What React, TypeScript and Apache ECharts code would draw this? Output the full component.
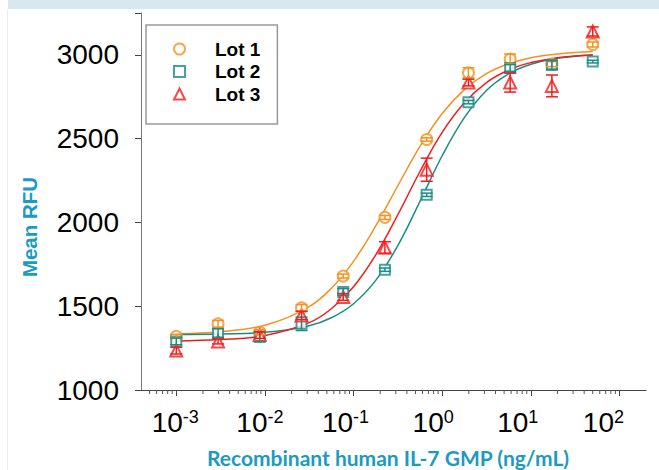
import React, { useEffect, useRef } from "react";
import * as echarts from "echarts";

const doses = [0.001, 0.00296, 0.00874, 0.0259, 0.0765, 0.226, 0.669, 1.98, 5.85, 17.3, 50];
const lot1 = [1320, 1395, 1345, 1490, 1680, 2030, 2495, 2893, 2975, 2945, 3062];
const lot2 = [1290, 1340, 1318, 1395, 1585, 1718, 2165, 2718, 2922, 2940, 2960];
const lot3 = [1235, 1290, 1328, 1445, 1555, 1850, 2315, 2835, 2835, 2815, 3140];
const err1 = [12, 20, 15, 20, 12, 12, 10, 30, 30, 15, 15];
const err2 = [20, 25, 30, 40, 20, 10, 10, 10, 20, 25, 8];
const err3 = [20, 15, 20, 25, 20, 35, 69, 20, 57, 65, 27];

const curveDoses = [0.001, 0.00316, 0.01, 0.0316, 0.0562, 0.1, 0.178, 0.316, 0.562, 1, 1.78, 3.16, 5.62, 10, 17.8, 31.6, 50];
const fit1 = [1336, 1348, 1387, 1498, 1607, 1768, 1979, 2219, 2454, 2650, 2793, 2888, 2947, 2983, 3003, 3015, 3020];
const fit2 = [1331, 1334, 1344, 1384, 1431, 1515, 1654, 1862, 2126, 2398, 2626, 2788, 2887, 2944, 2976, 2992, 2999];
const fit3 = [1293, 1301, 1325, 1402, 1485, 1616, 1806, 2046, 2304, 2537, 2714, 2835, 2910, 2954, 2979, 2993, 2999];

const lotNames = ["Lot 1", "Lot 2", "Lot 3"];
const yTicks = [1000, 1500, 2000, 2500, 3000];

const COLORS = ["#f5921f", "#1a8c87", "#f21c1c"];
const FONT = "'Liberation Sans', Arial, sans-serif";

export default function App() {
  const ref = useRef<HTMLDivElement>(null);
  useEffect(() => {
    if (!ref.current) return;
    const chart = echarts.init(ref.current, null, { renderer: "svg" });

    const minorTickValues: number[] = [];
    for (let d = -4; d <= 2; d++) {
      for (let k = 2; k <= 9; k++) {
        const v = k * Math.pow(10, d);
        if (v > 0.0004 && v < 200) minorTickValues.push(v);
      }
    }

    const lots = [lot1, lot2, lot3];
    const errs = [err1, err2, err3];
    const fits = [fit1, fit2, fit3];
    const symbols = ["emptyCircle", "emptyRect", "emptyTriangle"];
    const sizes = [11, 10, 12];

    const series: any[] = [];
    lots.forEach((vals, i) => {
      series.push({
        name: lotNames[i] + " fit",
        type: "line",
        data: curveDoses.map((d, j) => [d, fits[i][j]]),
        symbol: "none",
        smooth: 0.4,
        lineStyle: { color: COLORS[i], width: 1.5 },
        z: 2,
      });
    });
    lots.forEach((vals, i) => {
      series.push({
        name: lotNames[i],
        type: "scatter",
        data: doses.map((d, j) => [d, vals[j]]),
        symbol: symbols[i],
        symbolSize: sizes[i],
        itemStyle: { color: COLORS[i], borderWidth: 1.6 },
        clip: false,
        z: 3,
      });
    });
    lots.forEach((vals, i) => {
      series.push({
        name: lotNames[i] + " error",
        type: "custom",
        data: doses.map((d, j) => [d, vals[j] - errs[i][j], vals[j] + errs[i][j]]),
        encode: { x: 0, y: [1, 2] },
        clip: false,
        z: 4,
        renderItem: (params: any, api: any) => {
          const x = api.value(0);
          const lo = api.coord([x, api.value(1)]);
          const hi = api.coord([x, api.value(2)]);
          const w = 6;
          const style = { stroke: COLORS[i], lineWidth: 1.5 };
          return {
            type: "group",
            children: [
              { type: "line", shape: { x1: lo[0], y1: lo[1], x2: hi[0], y2: hi[1] }, style },
              { type: "line", shape: { x1: lo[0] - w, y1: lo[1], x2: lo[0] + w, y2: lo[1] }, style },
              { type: "line", shape: { x1: hi[0] - w, y1: hi[1], x2: hi[0] + w, y2: hi[1] }, style },
            ],
          };
        },
      });
    });
    series.push({
      name: "minor ticks",
      type: "custom",
      data: minorTickValues.map((v) => [v, 1000]),
      encode: { x: 0, y: 1 },
      clip: false,
      silent: true,
      z: 1,
      renderItem: (params: any, api: any) => {
        const p = api.coord([api.value(0), api.value(1)]);
        return {
          type: "line",
          shape: { x1: p[0], y1: p[1], x2: p[0], y2: p[1] + 4 },
          style: { stroke: "#555", lineWidth: 1 },
        };
      },
    });

    // trailing spacer widths to reproduce the reference's label placement
    const labelShift: Record<string, number> = { "-3": 2, "-2": 10, "-1": 16, "0": 18, "1": 26, "2": 32 };
    const rich: any = {
      b: { fontSize: 28, fontFamily: FONT, color: "#000", lineHeight: 30, verticalAlign: "top" },
      s: { fontSize: 18, fontFamily: FONT, color: "#000", lineHeight: 30, verticalAlign: "top" },
    };
    Object.keys(labelShift).forEach((k, idx) => {
      rich["g" + idx] = { width: labelShift[k], fontSize: 10, lineHeight: 30 };
    });
    const shiftKeys = Object.keys(labelShift);

    chart.setOption({
      animation: false,
      backgroundColor: "#fff",
      grid: { left: 141, right: 2, top: 13, bottom: 80 },
      legend: {
        data: lotNames,
        orient: "vertical",
        left: 146,
        top: 25,
        padding: [14, 17, 20, 27],
        borderColor: "#999",
        borderWidth: 1.5,
        backgroundColor: "#fff",
        itemWidth: 11,
        itemHeight: 11,
        itemGap: 2.5,
        selectedMode: false,
        textStyle: {
          fontSize: 19,
          fontWeight: "bold",
          fontFamily: FONT,
          color: "#000",
          lineHeight: 20,
          padding: [0, 0, 0, 25],
        },
      },
      xAxis: {
        type: "log",
        min: 0.0004,
        max: 200,
        logBase: 10,
        axisLine: { show: true, lineStyle: { color: "#444", width: 1 } },
        axisTick: { show: true, length: 6, lineStyle: { color: "#444" } },
        splitLine: { show: false },
        axisLabel: {
          showMinLabel: false,
          showMaxLabel: false,
          margin: 18,
          formatter: (v: number) => {
            const e = String(Math.round(Math.log10(v)));
            const idx = shiftKeys.indexOf(e);
            return `{b|10}{s|${e}}` + (idx >= 0 ? `{g${idx}| }` : "");
          },
          rich,
        },
      },
      yAxis: {
        type: "value",
        min: 1000,
        max: 3250,
        interval: 500,
        axisLine: { show: true, lineStyle: { color: "#777", width: 1 } },
        axisTick: { show: true, length: 6, lineStyle: { color: "#444" } },
        splitLine: { show: false },
        axisLabel: {
          margin: 22,
          fontSize: 28,
          fontFamily: FONT,
          color: "#000",
          formatter: (v: number) => (yTicks.indexOf(v) >= 0 ? String(v) : ""),
        },
      },
      graphic: [
        { type: "rect", left: 8, top: 0, shape: { width: 651, height: 9 }, style: { fill: "#d8e8f1" }, z: 10 },
        { type: "rect", left: 7, top: 9, shape: { width: 1, height: 461 }, style: { fill: "#e6eff5" }, z: 10 },
        {
          type: "text",
          x: 29,
          y: 227,
          rotation: Math.PI / 2,
          style: {
            text: "Mean RFU",
            fill: "#1a9bc6",
            font: `bold 20.5px ${FONT}`,
            align: "center",
            verticalAlign: "middle",
          },
        },
        {
          type: "text",
          x: 388,
          y: 457,
          style: {
            text: "Recombinant human IL-7 GMP (ng/mL)",
            fill: "#1b9ac4",
            font: "bold 21px Lato, 'Open Sans', sans-serif",
            align: "center",
            verticalAlign: "middle",
          },
        },
      ],
      series,
    });
    return () => chart.dispose();
  }, []);
  return <div ref={ref} style={{ position: "fixed", left: 0, top: 0, width: 659, height: 470 }} />;
}
